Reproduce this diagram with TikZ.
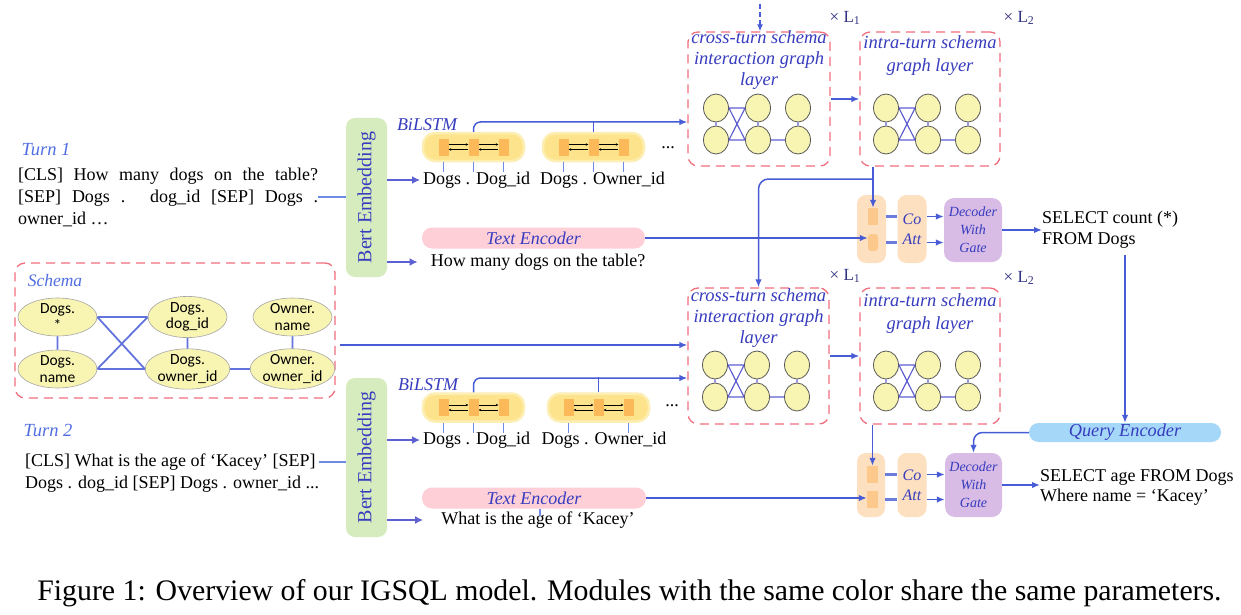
\documentclass[tikz,border=0pt]{standalone}
\usepackage{fontspec}
\setmainfont{Liberation Serif}
\newfontfamily\calfont{Carlito}
\usetikzlibrary{arrows.meta,shapes.geometric,calc}
\newcommand\myfs[2]{\fontsize{#1}{#2}\selectfont}
\definecolor{cblue}{RGB}{72,92,214}
\definecolor{bblue}{RGB}{92,96,208}
\definecolor{lblue}{RGB}{110,140,230}
\definecolor{tblue}{RGB}{55,60,190}
\definecolor{tlight}{RGB}{80,110,225}
\definecolor{cred}{RGB}{240,110,125}
\definecolor{bgreen}{RGB}{214,236,190}
\definecolor{bily}{RGB}{253,228,140}
\definecolor{bilyg}{RGB}{253,238,180}
\definecolor{sqor}{RGB}{252,185,90}
\definecolor{tepink}{RGB}{255,207,216}
\definecolor{coor}{RGB}{253,224,192}
\definecolor{coin}{RGB}{252,200,140}
\definecolor{decp}{RGB}{216,188,230}
\definecolor{qeb}{RGB}{165,216,248}
\definecolor{nyel}{RGB}{248,244,178}
\definecolor{medgec}{RGB}{95,95,210}
\definecolor{navy}{RGB}{50,50,130}
\tikzset{
  lbl/.style={font=\myfs{18.5}{21}\itshape, text=tblue, inner sep=0pt, align=center},
  body/.style={font=\myfs{18}{22}, text=black, inner sep=0pt},
  conn/.style={draw=cblue, line width=1.5pt, -{Latex[length=8pt,width=6.5pt]}},
  plainconn/.style={draw=cblue, line width=1.5pt},
  fatconn/.style={draw=bblue, line width=2.6pt, -{Latex[length=8pt,width=8pt]}},
  thinconn/.style={draw=lblue, line width=1.2pt},
  shortfat/.style={draw=cblue!80, line width=2.4pt},
  redbox/.style={draw=cred, line width=1.3pt, dash pattern=on 9pt off 6pt, rounded corners=10pt, inner sep=0pt},
  bertbox/.style={fill=bgreen, rounded corners=9pt, minimum width=41pt, minimum height=159pt, inner sep=0pt},
  berttext/.style={font=\myfs{20}{22}, text=tblue, inner sep=0pt},
  bibox/.style={fill=bily, draw=bilyg, line width=2.5pt, rounded corners=12pt, minimum width=101pt, minimum height=28pt, inner sep=0pt},
  sqr/.style={fill=sqor, minimum width=10pt, minimum height=17pt, inner sep=0pt},
  tinyarr/.style={draw=black, line width=0.6pt, -{Stealth[length=2.5pt,width=2.5pt]}},
  tick/.style={draw=lblue, line width=1.4pt},
  pill/.style={rounded corners=10pt, minimum height=21pt, inner sep=0pt, font=\myfs{18}{20}\itshape, text=tblue},
  mnode/.style={ellipse, fill=nyel, draw=gray!70!black, line width=0.8pt, minimum width=25pt, minimum height=28pt, inner sep=0pt},
  medge/.style={draw=medgec, line width=1.2pt},
  snode/.style={ellipse, fill=nyel, draw=gray!70, line width=0.6pt, minimum width=79pt, minimum height=38pt, inner sep=0pt, font=\calfont\myfs{15.5}{16.5}, align=center},
  sedge/.style={draw=cblue!85, line width=1.8pt},
  cobox/.style={fill=coor, rounded corners=9pt, minimum width=29pt, minimum height=68pt, inner sep=0pt},
  coin1/.style={fill=coin, minimum width=10pt, minimum height=17pt, inner sep=0pt},
  decbox/.style={fill=decp, rounded corners=10pt, minimum width=58pt, minimum height=64pt, inner sep=0pt, font=\myfs{14}{18}\itshape, text=tblue, align=center},
  times/.style={font=\myfs{17}{20}, text=navy, inner sep=0pt},
  mgraph/.pic={
    \node[mnode] (-a) at (0,0) {};
    \node[mnode] (-b) at (0,32) {};
    \node[mnode] (-c) at (42,0) {};
    \node[mnode] (-d) at (42,32) {};
    \node[mnode] (-e) at (82,0) {};
    \node[mnode] (-f) at (82,32) {};
    \draw[medge] (-a) -- (-b) (-c) -- (-d) (-e) -- (-f) (-a) -- (-c) (-b) -- (-d) (-d) -- (-f)
      (-a.east) -- (-d.west) (-b.east) -- (-c.west);
  },
  bilstm/.pic={
    \node[bibox] (-box) at (0,0) {};
    \node[sqr] (-s1) at (-30,0) {};
    \node[sqr] (-s2) at (0,0) {};
    \node[sqr] (-s3) at (30,0) {};
    \draw[tinyarr] ([yshift=2.5pt]-s1.east) -- ([yshift=2.5pt]-s2.west);
    \draw[tinyarr] ([yshift=2.5pt]-s2.east) -- ([yshift=2.5pt]-s3.west);
    \draw[tinyarr] ([yshift=-2.5pt]-s3.west) -- ([yshift=-2.5pt]-s2.east);
    \draw[tinyarr] ([yshift=-2.5pt]-s2.west) -- ([yshift=-2.5pt]-s1.east);
  }
}
\begin{document}
\begin{tikzpicture}[x=1pt,y=-1pt]
\useasboundingbox (0,0) rectangle (1241,615);
\fill[white] (0,0) rectangle (1241,615);

% ---------------- left texts ----------------
\node[lbl, text=tlight] (turn1) at (46,150) {Turn 1};
\node[body, anchor=west, text width=300pt, align=justify] (t1txt) at (18,197)
  {[CLS] How many dogs on the table?\linebreak{}[SEP] Dogs . dog\_id [SEP] Dogs .\linebreak{}owner\_id …};
\node[lbl, text=tlight] (turn2) at (48,430) {Turn 2};
\node[body, anchor=west, align=left] (t2txt) at (25,473)
  {[CLS] What is the age of ‘Kacey’ [SEP]\\Dogs . dog\_id [SEP] Dogs . owner\_id ...};

% ---------------- schema ----------------
\node[redbox, minimum width=320pt, minimum height=135pt] (schema) at (175,330.5) {};
\node[lbl, text=tlight, font=\myfs{17.5}{20}\itshape] (schlbl) at (55,281) {Schema};
\node[snode] (s1) at (57.5,317) {Dogs.\\*};
\node[snode] (s2) at (57.5,369) {Dogs.\\name};
\node[snode] (s3) at (187.5,317) {Dogs.\\dog\_id};
\node[snode] (s4) at (187.5,369) {Dogs.\\owner\_id};
\node[snode] (s5) at (292.5,317) {Owner.\\name};
\node[snode] (s6) at (292.5,369) {Owner.\\owner\_id};
\draw[sedge] (s1) -- (s2) (s3) -- (s4) (s5) -- (s6) (s4) -- (s6)
  (s1.east) -- (s3.west) (s2.east) -- (s4.west) (s1.east) -- (s4.west) (s2.east) -- (s3.west);

% ---------------- Bert ----------------
\node[bertbox] (bert1) at (366.5,197.5) {};
\node[berttext, rotate=90] (bert1t) at (bert1) {Bert Embedding};
\node[bertbox] (bert2) at (366.5,457.5) {};
\node[berttext, rotate=90] (bert2t) at (bert2) {Bert Embedding};
\draw[thinconn] (t1txt.east) -- (t1txt.east -| bert1.west);
\draw[thinconn] ([yshift=11pt]t2txt.east) -- ([yshift=11pt]t2txt.east -| bert2.west);

% ---------------- BiLSTM top ----------------
\node[lbl, font=\myfs{18}{20}\itshape] (bil1) at (427,125) {BiLSTM};
\pic (b1) at (473.5,147) {bilstm};
\pic (b2) at (593.5,147) {bilstm};
\node[body] (dots1) at (668,148) {...};
\node[body, anchor=west] (tok1) at (423,180) {Dogs . Dog\_id};
\node[body] (tok2) at (602.5,180) {Dogs . Owner\_id};
\foreach \s in {s1,s2,s3}{
  \draw[tick] (b1-\s |- b1-box.south) -- ++(0,10);
  \draw[tick] (b2-\s |- b2-box.south) -- ++(0,10);
}
\draw[fatconn] (bert1.east |- tok1) -- ([xshift=-3pt]tok1.west);
\node[pill, fill=tepink, minimum width=223pt] (te1) at (533.5,238) {Text Encoder};
\node[body] (q1) at (538,262) {How many dogs on the table?};
\draw[fatconn] (bert1.east |- q1) -- ([xshift=-13pt]q1.west);

% ---------------- BiLSTM bottom ----------------
\node[lbl, font=\myfs{18}{20}\itshape] (bil2) at (428,385) {BiLSTM};
\pic (b3) at (473.5,407.5) {bilstm};
\pic (b4) at (598.5,407.5) {bilstm};
\node[body] (dots2) at (672,406) {...};
\node[body, anchor=west] (tok3) at (423,440) {Dogs . Dog\_id};
\node[body] (tok4) at (604,440) {Dogs . Owner\_id};
\foreach \s in {s1,s2,s3}{
  \draw[tick] (b3-\s |- b3-box.south) -- ++(0,10);
}
\draw[tick] (b4-s1 |- b4-box.south) -- ++(0,10);
\draw[tick] (b4-s3 |- b4-box.south) -- ++(0,10);
\draw[fatconn] (bert2.east |- tok3) -- ([xshift=-3pt]tok3.west);
\node[pill, fill=tepink, minimum width=224pt] (te2) at (534,498) {Text Encoder};
\node[body] (q2) at (538,520) {What is the age of ‘Kacey’};
\draw[tick] ([xshift=6pt]te2.south) -- ++(0,7);
\draw[fatconn] (bert2.east |- q2) -- ([xshift=-18pt]q2.west);

% ---------------- graph layers top ----------------
\node[redbox, minimum width=142pt, minimum height=134pt] (cross1) at (759,99) {};
\node[lbl] (cross1l) at (759,60) {cross-turn schema\\interaction graph\\layer};
\pic at (716,108) {mgraph};
\node[redbox, minimum width=140pt, minimum height=134pt] (intra1) at (930,99) {};
\node[lbl, font=\myfs{18.5}{23}\itshape] (intra1l) at (930,55.5) {intra-turn schema\\graph layer};
\pic at (886,108) {mgraph};
\node[times] (xl1) at (845,18) {× L\textsubscript{1}};
\node[times] (xl2) at (1019,18) {× L\textsubscript{2}};
\coordinate (topin) at (760,4);
\draw[draw=cblue, line width=1.3pt, dash pattern=on 5pt off 3pt, -{Latex[length=7pt,width=6pt]}] (topin) -- (topin |- cross1.north);
\draw[conn] (cross1.east) -- (intra1.west);
\draw[conn, rounded corners=7pt] (b1-box.north) |- ([yshift=-23pt]cross1.west);
\draw[plainconn] (b2-box.north) -- ++(0,-10);

% ---------------- graph layers bottom ----------------
\node[redbox, minimum width=141pt, minimum height=136pt] (cross2) at (758.5,356) {};
\node[lbl] (cross2l) at (758.5,318) {cross-turn schema\\interaction graph\\layer};
\pic at (715,365) {mgraph};
\node[redbox, minimum width=140pt, minimum height=136pt] (intra2) at (930,356) {};
\node[lbl, font=\myfs{18.5}{23}\itshape] (intra2l) at (930,314) {intra-turn schema\\graph layer};
\pic at (886,365) {mgraph};
\node[times] (xl3) at (845,276) {× L\textsubscript{1}};
\node[times] (xl4) at (1019,278) {× L\textsubscript{2}};
\draw[conn] (cross2.east) -- (intra2.west);
\draw[conn, rounded corners=7pt] (b3-box.north) |- ([yshift=-22pt]cross2.west);
\draw[plainconn] (b4-box.north) -- ++(0,-15);
\coordinate (sc) at (340,345);
\draw[conn] (sc) -- (sc -| cross2.west);

% ---------------- co-attention / decoder top ----------------
\node[cobox] (co1) at (871.5,229) {};
\node[coin1] (co1a) at (873,216.5) {};
\node[coin1, rounded corners=3pt] (co1b) at (873,242.5) {};
\node[cobox, font=\myfs{16}{20}\itshape, text=tblue, align=center] (ca1) at (912,229) {Co\\Att};
\node[decbox] (dec1) at (973,230) {Decoder\\With\\Gate};
\draw[shortfat] (co1.east |- co1a) -- (ca1.west |- co1a);
\draw[shortfat] (co1.east |- co1b) -- (ca1.west |- co1b);
\draw[conn] (ca1.east |- co1a) -- (dec1.west |- co1a);
\draw[conn] (ca1.east |- co1b) -- (dec1.west |- co1b);
\node[body, anchor=west, align=left, font=\myfs{18}{21}] (out1) at (1042,230) {SELECT count (*)\\FROM Dogs};
\draw[conn] (dec1.east) -- (out1.west);
\draw[conn] (te1.east) -- (te1.east -| co1b.west);
\draw[conn] (intra1.south -| co1a) -- (co1a.north);
\coordinate (j1) at (873,179);
\draw[conn, rounded corners=10pt] (j1) -| (cross2.north);

% ---------------- co-attention / decoder bottom ----------------
\node[cobox, minimum height=64pt, minimum width=28pt] (co2) at (871,485) {};
\node[coin1, minimum width=11pt] (co2a) at (872.5,474.5) {};
\node[coin1, minimum width=11pt] (co2b) at (872.5,499.5) {};
\node[cobox, minimum height=64pt, font=\myfs{16}{20}\itshape, text=tblue, align=center] (ca2) at (912,485) {Co\\Att};
\node[decbox, minimum width=57pt] (dec2) at (973.5,485) {Decoder\\With\\Gate};
\draw[shortfat] (co2.east |- co2a) -- (ca2.west |- co2a);
\draw[shortfat] (co2.east |- co2b) -- (ca2.west |- co2b);
\draw[conn] (ca2.east |- co2a) -- (dec2.west |- co2a);
\draw[conn] (ca2.east |- co2b) -- (dec2.west |- co2b);
\node[body, anchor=west, align=left, font=\myfs{18}{20}] (out2) at (1040,487) {SELECT age FROM Dogs\\Where name = ‘Kacey’};
\draw[conn] (dec2.east) -- (dec2.east -| out2.west);
\draw[conn] (te2.east) -- (te2.east -| co2b.west);
\draw[conn] (intra2.south -| co2a) -- (co2a.north);
\node[pill, fill=qeb, minimum width=192pt, minimum height=19pt, rounded corners=9.5pt, font=\myfs{18.3}{20}\itshape] (qe) at (1125,432.5) {Query Encoder};
\draw[conn] ([yshift=-6pt]out1.south -| qe.north) -- (qe.north);
\draw[conn, rounded corners=9pt] (qe.west) -| (dec2.north);

% ---------------- caption ----------------
\node[font=\myfs{29.8}{32}, inner sep=0pt] (cap) at (629.5,593) {Figure 1: Overview of our IGSQL model. Modules with the same color share the same parameters.};
\end{tikzpicture}
\end{document}
